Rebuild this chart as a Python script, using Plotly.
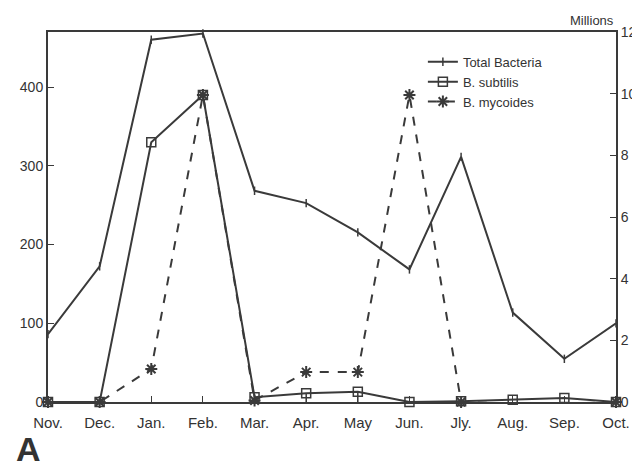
import plotly.graph_objects as go

months = ["Nov.", "Dec.", "Jan.", "Feb.", "Mar.", "Apr.", "May", "Jun.", "Jly.", "Aug.", "Sep.", "Oct."]
total_bacteria = [2.2, 4.4, 11.75, 11.95, 6.85, 6.45, 5.5, 4.3, 7.95, 2.9, 1.4, 2.55]   # millions (right axis)
b_subtilis = [0, 0, 330, 390, 6, 11, 13, 0, 1, 3, 5, 0]                                   # left axis
b_subtilis_err_minus = [0, 0, 0, 0, 0, 11, 13, 0, 0, 0, 0, 0]
b_mycoides = [0, 0, 42, 390, 2, 38, 38, 390, 0, -2, -2, 0]                                # left axis

x = list(range(len(months)))
LC = "#3a3a3a"
FONT = "Liberation Sans Narrow, Arial Narrow, Liberation Sans, Arial, sans-serif"

fig = go.Figure()
fig.add_trace(go.Scatter(
    x=x, y=total_bacteria, name="Total Bacteria", yaxis="y2",
    mode="lines+markers", line=dict(color=LC, width=2),
    marker=dict(symbol="line-ns", size=6, line=dict(color=LC, width=1.5)),
    cliponaxis=False))
fig.add_trace(go.Scatter(
    x=x, y=b_subtilis, name="B. subtilis",
    mode="lines+markers", line=dict(color=LC, width=2),
    marker=dict(symbol="square-open", size=9, color=LC, line=dict(color=LC, width=1.5)),
    error_y=dict(type="data", symmetric=False, array=[0] * len(x),
                 arrayminus=b_subtilis_err_minus, color=LC, thickness=1.5, width=0),
    cliponaxis=False))
fig.add_trace(go.Scatter(
    x=x, y=b_mycoides, name="B. mycoides",
    mode="lines+markers", line=dict(color=LC, width=2, dash="dash"),
    marker=dict(symbol="asterisk-open", size=10, color=LC, line=dict(color=LC, width=2)),
    cliponaxis=False))

fig.update_layout(
    width=640, height=468,
    margin=dict(l=40, r=32, t=24, b=74),
    paper_bgcolor="white", plot_bgcolor="white",
    font=dict(family=FONT, size=14, color="#333"),
    showlegend=True,
    legend=dict(x=0.66, y=0.96, xanchor="left", yanchor="top",
                bgcolor="rgba(0,0,0,0)", font=dict(size=13), itemwidth=30,
                tracegroupgap=2),
    xaxis=dict(range=[0, 11], tickvals=x, ticktext=months, showgrid=False, zeroline=False,
               showline=True, mirror=True, linecolor=LC, linewidth=2,
               ticks="inside", ticklen=6, tickcolor=LC, tickfont=dict(size=15),
               ticklabelstandoff=6),
    yaxis=dict(range=[0, 470], tickvals=[0, 100, 200, 300, 400], showgrid=False, zeroline=False,
               showline=True, linecolor=LC, linewidth=2,
               ticks="inside", ticklen=6, tickcolor=LC, tickfont=dict(size=14)),
    yaxis2=dict(range=[0, 12], tickvals=[0, 2, 4, 6, 8, 10, 12], overlaying="y", side="right",
                showgrid=False, zeroline=False, showline=True, linecolor=LC, linewidth=2,
                ticks="inside", ticklen=6, tickcolor=LC, tickfont=dict(size=14)),
    annotations=[
        dict(text="Millions", xref="paper", yref="paper", x=1.0, y=1.0, xanchor="right",
             yanchor="bottom", yshift=2, showarrow=False, font=dict(size=13)),
        dict(text="<b>A</b>", xref="paper", yref="paper", x=-0.06, y=0, xanchor="left",
             yanchor="top", yshift=-26, showarrow=False,
             font=dict(size=34, family="Liberation Sans, Arial")),
    ],
)

fig.write_html("out.html")
